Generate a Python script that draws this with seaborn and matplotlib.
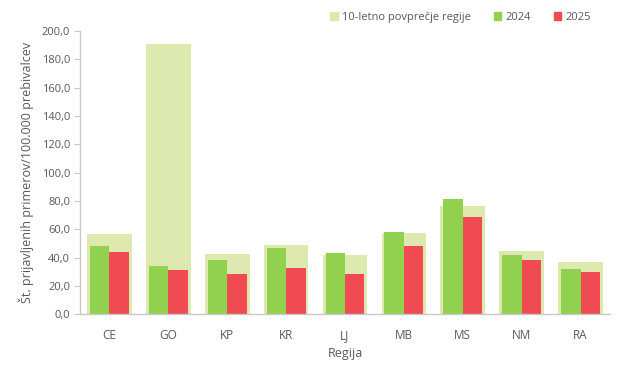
import pandas as pd
import matplotlib
matplotlib.use("Agg")
import matplotlib.pyplot as plt
import matplotlib.ticker as mticker
from matplotlib.patches import Patch
import seaborn as sns

regions = ["CE", "GO", "KP", "KR", "LJ", "MB", "MS", "NM", "RA"]
avg_10y = [56.9, 190.5, 42.5, 48.9, 41.8, 57.4, 76.4, 44.7, 36.9]
val_2024 = [48.4, 34.1, 38.3, 46.8, 43.2, 58.1, 81.3, 41.8, 32.0]
val_2025 = [44.1, 31.3, 28.4, 32.7, 28.4, 48.2, 68.6, 38.3, 29.9]

c_avg = "#dde9ae"
c_2024 = "#92d050"
c_2025 = "#f04a53"
txt = "#595959"

sns.set_style("white")
plt.rcParams["font.family"] = ["Open Sans", "DejaVu Sans"]

df = pd.DataFrame({
    "Regija": regions * 2,
    "leto": ["2024"] * len(regions) + ["2025"] * len(regions),
    "vrednost": val_2024 + val_2025,
})

fig = plt.figure(figsize=(6.25, 3.74), dpi=100)
ax = fig.add_axes([0.128, 0.160, 0.848, 0.757])

sns.barplot(x=regions, y=avg_10y, color=c_avg, width=0.76, ax=ax,
            saturation=1, linewidth=0)
sns.barplot(data=df, x="Regija", y="vrednost", hue="leto",
            palette=[c_2024, c_2025], width=0.66, gap=0, ax=ax,
            saturation=1, linewidth=0, legend=False)

ax.set_ylim(0, 200)
ax.set_xlim(-0.5, 8.5)
ax.yaxis.set_major_locator(mticker.MultipleLocator(20))
ax.yaxis.set_major_formatter(mticker.FuncFormatter(lambda v, p: f"{v:.1f}".replace(".", ",")))

for s in ["top", "right"]:
    ax.spines[s].set_visible(False)
for s in ["left", "bottom"]:
    ax.spines[s].set_color("#c8c8c8")
    ax.spines[s].set_linewidth(1)

ax.tick_params(axis="y", left=True, length=4, color="#c8c8c8", labelsize=8, labelcolor=txt, pad=3)
ax.tick_params(axis="x", bottom=False, labelsize=8.5, labelcolor=txt, pad=7)

ax.set_xlabel("Regija", fontsize=9, color=txt, labelpad=4)
ax.set_ylabel("Št. prijavljenih primerov/100.000 prebivalcev", fontsize=9, color=txt, labelpad=6)

handles = [Patch(color=c_avg, label="10-letno povprečje regije"),
           Patch(color=c_2024, label="2024"),
           Patch(color=c_2025, label="2025")]
fig.legend(handles=handles, loc="upper right", bbox_to_anchor=(0.962, 0.995), ncol=3,
           frameon=False, fontsize=8, labelcolor=txt, handlelength=0.7,
           handleheight=0.7, handletextpad=0.4, columnspacing=2.0)

fig.savefig("out.png", dpi=100)
